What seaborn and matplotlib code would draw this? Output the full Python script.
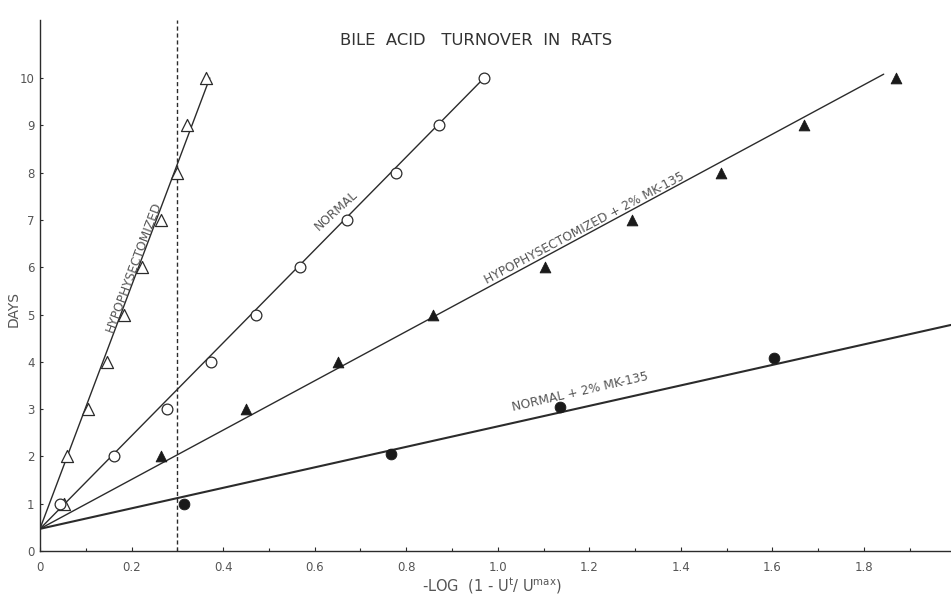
import matplotlib
matplotlib.use("Agg")
import matplotlib.pyplot as plt
import pandas as pd
import seaborn as sns
from matplotlib.ticker import MultipleLocator

# Values
hypo_days = [1, 2, 3, 4, 5, 6, 7, 8, 9, 10]
hypo_x = [0.052, 0.059, 0.105, 0.146, 0.183, 0.223, 0.264, 0.299, 0.321, 0.362]

normal_days = [1, 2, 3, 4, 5, 6, 7, 8, 9, 10]
normal_x = [0.044, 0.162, 0.277, 0.373, 0.473, 0.568, 0.671, 0.777, 0.871, 0.969]

hypo_mk_days = [2, 3, 4, 5, 6, 7, 8, 9, 10]
hypo_mk_x = [0.264, 0.450, 0.651, 0.858, 1.103, 1.293, 1.487, 1.670, 1.869]

normal_mk_days = [1.0, 2.05, 3.05, 4.08]
normal_mk_x = [0.314, 0.766, 1.137, 1.603]

# fitted lines: common start point and individual end points
line_start = (0.0, 0.47)
line_names = ["hypo", "normal", "hypo_mk", "normal_mk"]
line_end_x = [0.371, 0.962, 1.843, 1.99]
line_end_y = [10.0, 9.92, 10.08, 4.78]

sns.set_theme(style="white")
plt.rcParams["font.family"] = ["DejaVu Sans"]
INK = "#2b2b2b"
TXT = "#555555"

fig = plt.figure(figsize=(9.51, 5.99), dpi=100)
ax = fig.add_axes([0.042, 0.080, 0.958, 0.887])

# fit lines
for name, xe, ye in zip(line_names, line_end_x, line_end_y):
    seg = pd.DataFrame({"x": [line_start[0], xe], "y": [line_start[1], ye]})
    sns.lineplot(data=seg, x="x", y="y", ax=ax, color=INK,
                 lw=1.5 if name == "normal_mk" else 1.0, legend=False)

# dashed reference line
ax.axvline(0.3, color=INK, ls=(0, (3, 2)), lw=1.0)

# data points
sns.scatterplot(x=hypo_x, y=hypo_days, ax=ax, marker="^", s=75,
                facecolor="white", edgecolor=INK, linewidth=0.9, zorder=3)
sns.scatterplot(x=normal_x, y=normal_days, ax=ax, marker="o", s=60,
                facecolor="white", edgecolor=INK, linewidth=0.9, zorder=3)
sns.scatterplot(x=hypo_mk_x, y=hypo_mk_days, ax=ax, marker="^", s=60,
                color="#1a1a1a", edgecolor="#1a1a1a", zorder=3)
sns.scatterplot(x=normal_mk_x, y=normal_mk_days, ax=ax, marker="o", s=60,
                color="#1a1a1a", edgecolor="#1a1a1a", zorder=3)

ax.set_xlim(0, 1.99)
ax.set_ylim(0, 11.23)
ax.xaxis.set_minor_locator(MultipleLocator(0.1))
ax.set_yticks(range(0, 11))
ax.set_xticks([0, 0.2, 0.4, 0.6, 0.8, 1.0, 1.2, 1.4, 1.6, 1.8])
ax.set_xticklabels(["0", "0.2", "0.4", "0.6", "0.8", "1.0", "1.2", "1.4", "1.6", "1.8"])

ax.tick_params(axis="both", which="both", direction="in", colors=INK,
               labelcolor=TXT, labelsize=8.5)
ax.tick_params(axis="x", which="major", length=3, width=0.8, pad=7)
ax.tick_params(axis="x", which="minor", length=2, width=0.8)
ax.tick_params(axis="y", length=2, width=0.8, pad=4)
ax.tick_params(bottom=True, left=True, which="both")

for side in ["top", "right"]:
    ax.spines[side].set_visible(False)
for side in ["left", "bottom"]:
    ax.spines[side].set_color(INK)
    ax.spines[side].set_linewidth(1.0)

ax.set_xlabel("-LOG  (1 - U$^{\\mathregular{t}}$/ U$^{\\mathregular{max}}$)",
              color=TXT, fontsize=10.5, va="center")
ax.xaxis.set_label_coords(0.496, -0.066)
ax.set_ylabel("DAYS", color=TXT, fontsize=10)
ax.yaxis.set_label_coords(-0.021, 0.456)

ax.text(0.952, 10.8, "BILE  ACID   TURNOVER  IN  RATS", ha="center", va="center",
        color="#333333", fontsize=11.8)

ann = dict(color=TXT, fontsize=8.8, ha="center", va="center", rotation_mode="anchor")
ax.text(0.205, 6.0, "HYPOPHYSECTOMIZED", rotation=69.5, **ann)
ax.text(0.648, 7.2, "NORMAL", rotation=42, **ann)
ax.text(1.19, 6.83, "HYPOPHYSECTOMIZED + 2% MK-135", rotation=28, **ann)
ax.text(1.179, 3.36, "NORMAL + 2% MK-135", rotation=13, **ann)

fig.savefig("out.png", dpi=100, facecolor="white")
